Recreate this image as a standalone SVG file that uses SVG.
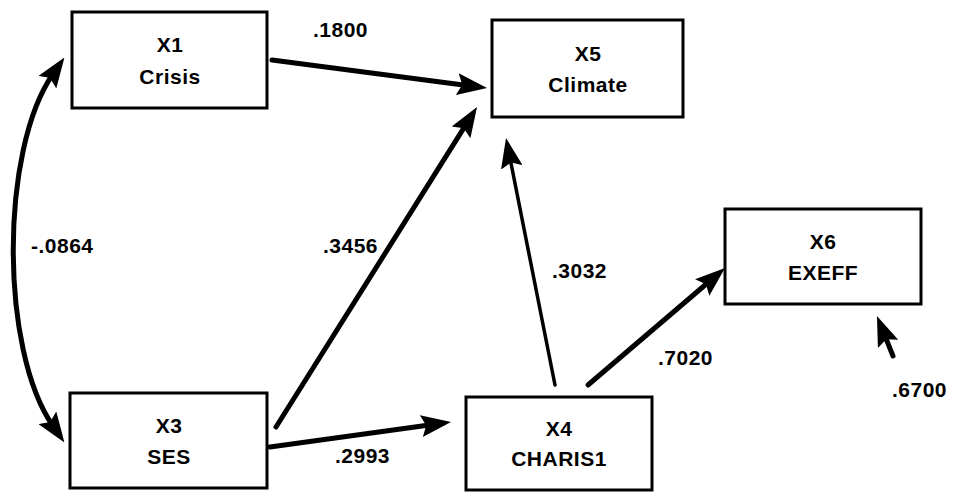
<svg xmlns="http://www.w3.org/2000/svg" width="974" height="493" viewBox="0 0 974 493">
<style>
.box{fill:#fff;stroke:#000;stroke-width:3}
.t{font-family:"Liberation Sans",Arial,sans-serif;font-size:21px;font-weight:bold;letter-spacing:0.5px;fill:#000}
.c{text-anchor:middle}
.ln{fill:none;stroke:#000;stroke-width:5;stroke-linecap:round}
.thin{stroke-width:3.5}
</style>
<defs>
<marker id="ah" markerUnits="userSpaceOnUse" markerWidth="30" markerHeight="22" viewBox="0 0 30 22" refX="10" refY="11" orient="auto-start-reverse">
<path d="M0,0 L30,11 L0,22 L5,11 z" fill="#000"/>
</marker>
</defs>
<rect width="974" height="493" fill="#fff"/>
<g id="connectors">
<path class="ln" d="M53,74 C0,150 0,350 53,426" marker-start="url(#ah)" marker-end="url(#ah)"/>
<line class="ln" x1="272" y1="60" x2="467.2" y2="85.4" marker-end="url(#ah)"/>
<line class="ln" x1="276" y1="427" x2="466.4" y2="123.9" marker-end="url(#ah)"/>
<line class="ln thin" x1="555" y1="385" x2="509.9" y2="157.6" marker-end="url(#ah)"/>
<line class="ln" x1="270" y1="447" x2="431.2" y2="424.7" marker-end="url(#ah)"/>
<line class="ln" x1="588" y1="385" x2="709.8" y2="281" marker-end="url(#ah)"/>
<line class="ln" x1="893" y1="356" x2="884.4" y2="334.6" marker-end="url(#ah)"/>
<text class="t" x="313" y="37">.1800</text>
<text class="t" x="31" y="253">-.0864</text>
<text class="t" x="323" y="253">.3456</text>
<text class="t" x="552" y="278">.3032</text>
<text class="t" x="658" y="365">.7020</text>
<text class="t" x="892" y="397">.6700</text>
<text class="t" x="335" y="463">.2993</text>
</g>
<g id="X1">
<rect class="box" x="72" y="12" width="195" height="96"/>
<text class="t c" x="170" y="52">X1</text>
<text class="t c" x="170" y="84">Crisis</text>
</g>
<g id="X5">
<rect class="box" x="492" y="20" width="191" height="97"/>
<text class="t c" x="588" y="61">X5</text>
<text class="t c" x="588" y="92">Climate</text>
</g>
<g id="X3">
<rect class="box" x="70" y="393" width="197" height="95"/>
<text class="t c" x="169" y="433">X3</text>
<text class="t c" x="169" y="464">SES</text>
</g>
<g id="X4">
<rect class="box" x="466" y="397" width="186" height="93"/>
<text class="t c" x="559" y="436">X4</text>
<text class="t c" x="559" y="466">CHARIS1</text>
</g>
<g id="X6">
<rect class="box" x="725" y="209" width="196" height="95"/>
<text class="t c" x="823" y="249">X6</text>
<text class="t c" x="823" y="280">EXEFF</text>
</g>
</svg>
